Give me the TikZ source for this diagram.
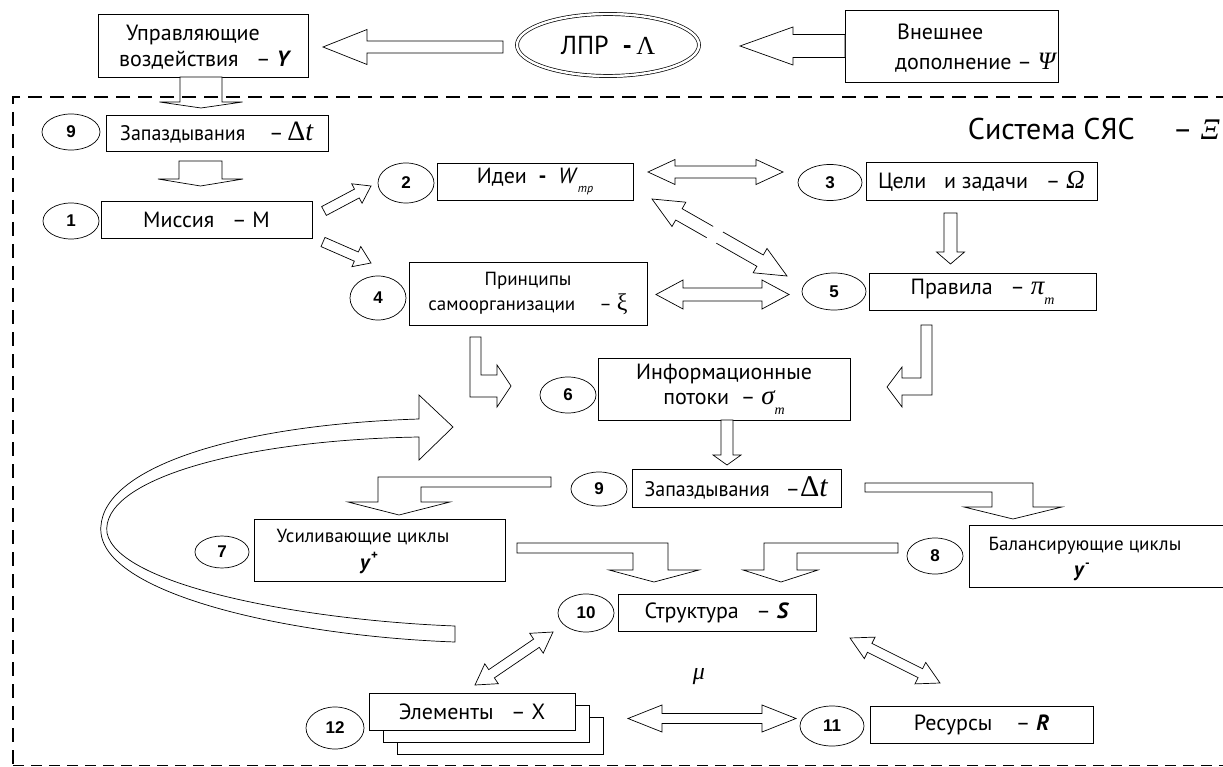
\documentclass[tikz,border=0pt]{standalone}
\usepackage{fontspec}
\setmainfont{PT Sans}
\newfontfamily\tnr{Liberation Serif}
\newfontfamily\arl{Liberation Sans}
\usetikzlibrary{calc,shapes.geometric}
\newcommand{\fs}[2]{\fontsize{#1}{#2}\selectfont}
\newcommand{\harrow}[5]{%
 \path ($(#2)!#5!(#1)$) coordinate (hbx);
 \draw[blk] ($(#1)!#3!90:(#2)$) -- ($(hbx)!#3!90:(#2)$) -- ($(hbx)!#4!90:(#2)$) -- (#2) -- ($(hbx)!#4!-90:(#2)$) -- ($(hbx)!#3!-90:(#2)$) -- ($(#1)!#3!-90:(#2)$) -- cycle;}
\newcommand{\dharrow}[5]{%
 \path ($(#2)!#5!(#1)$) coordinate (hbx) ($(#1)!#5!(#2)$) coordinate (hax);
 \draw[blk] (#1) -- ($(hax)!#4!90:(#2)$) -- ($(hax)!#3!90:(#2)$) -- ($(hbx)!#3!90:(#2)$) -- ($(hbx)!#4!90:(#2)$) -- (#2) -- ($(hbx)!#4!-90:(#2)$) -- ($(hbx)!#3!-90:(#2)$) -- ($(hax)!#3!-90:(#2)$) -- ($(hax)!#4!-90:(#2)$) -- cycle;}
\newcommand{\zap}{\scalebox{0.95}[1]{\fs{21}{21}Запаздывания}}
\tikzset{
 box/.style={draw, line width=0.9pt, fill=white, inner sep=0pt, align=center},
 num/.style={draw, ellipse, line width=0.7pt, fill=white, inner sep=0pt, font=\arl\bfseries\fs{17}{17}},
 blk/.style={draw, line width=0.7pt, fill=white, line join=miter},
 txt/.style={inner sep=0pt},
 big/.style={font=\fs{22}{25}},
 mid/.style={font=\fs{19}{25}},
}
\begin{document}
\begin{tikzpicture}[x=1pt,y=-1pt]
\useasboundingbox (0,0) rectangle (1223,767);
% ---------- top level ----------
\node[box, minimum width=210, minimum height=63] (Y) at (203,45.5) {};
\node[txt, anchor=west, align=left, font=\fs{22}{26}] (Yt) at (119,47.5) {\hspace*{7pt}Управляющие\\воздействия\ \ \ – \textbf{\textit{Y}}};
\node[draw, ellipse, double, double distance=2.4pt, line width=0.7pt, minimum width=182, minimum height=62, inner sep=0pt, font=\fs{26}{26}] (lpr) at (608,45) {ЛПР\ \ \textbf{-}\,{\tnr Λ}};
\node[box, minimum width=213, minimum height=72] (ext) at (951.5,46) {};
\node[txt, anchor=west, align=left, font=\fs{22}{30}] (extt) at (895,48.5) {\hspace*{2pt}Внешнее\\дополнение\ – {\tnr\itshape\fs{25}{25}Ψ}};
\coordinate (a1s) at (503,47); \coordinate (a1e) at (323,47);
\harrow{a1s}{a1e}{6pt}{17.5pt}{44pt}
\coordinate (a2s) at (845,46); \coordinate (a2e) at (740,46);
\harrow{a2s}{a2e}{11.5pt}{19pt}{53pt}
% ---------- left column ----------
\node[num, minimum width=58, minimum height=36] (n9a) at (71,132) {9};
\node[box, minimum width=222, minimum height=36] (zap1) at (217,133) {\zap\hspace{24pt}\fs{22}{22}–\,{\tnr\fs{28}{28}Δ\textit{t}}};
\node[num, minimum width=56, minimum height=36] (n1) at (71,221) {1};
\node[box, big, minimum width=211, minimum height=37] (mis) at (206.5,219.5) {Миссия\ \ \ – М};
\coordinate (a3s) at (201,77); \coordinate (a3e) at (201,108);
\harrow{a3s}{a3e}{21pt}{41.5pt}{6pt}
\coordinate (a4s) at (200.5,161); \coordinate (a4e) at (200.5,186);
\harrow{a4s}{a4e}{21.5pt}{42.5pt}{7pt}
\coordinate (a5s) at (324,211); \coordinate (a5e) at (371,186);
\harrow{a5s}{a5e}{5pt}{11pt}{16pt}
\coordinate (a6s) at (323,242); \coordinate (a6e) at (371,263);
\harrow{a6s}{a6e}{5pt}{11pt}{16pt}
% ---------- second row ----------
\node[num, minimum width=56, minimum height=40] (n2) at (406,183) {2};
\node[box, big, minimum width=196, minimum height=37] (ide) at (535,181.5) {Идеи\ \ \textbf{-}\ \ \textit{W}\raisebox{-0.4em}{\fs{12}{12}\itshape mp}};
\node[num, minimum width=64, minimum height=36] (n3) at (830,182.5) {3};
\node[box, big, minimum width=231, minimum height=38] (cel) at (981.5,181) {Цели\ \ \ и задачи\ \ \ – {\tnr\itshape\fs{26}{26}Ω}};
\node[anchor=east, txt, font=\fs{30}{30}] (sys) at (1220,129) {Система СЯС\quad\ – {\tnr\itshape Ξ}};
\coordinate (d1s) at (648,172); \coordinate (d1e) at (783,172);
\dharrow{d1s}{d1e}{6pt}{12.5pt}{27pt}
\coordinate (d2s) at (652,199); \coordinate (d2e) at (787,276);
\dharrow{d2s}{d2e}{6.5pt}{14pt}{31pt}
\draw[white, line width=16pt] ($(d2s)!0.43!(d2e)$) -- ($(d2s)!0.5!(d2e)$);
\coordinate (a7s) at (950.5,213); \coordinate (a7e) at (950.5,264);
\harrow{a7s}{a7e}{6.5pt}{14pt}{12pt}
% ---------- third row ----------
\node[num, minimum width=56, minimum height=44] (n4) at (378,298) {4};
\node[box, mid, minimum width=238, minimum height=63] (pri) at (528,293.5) {Принципы\\самоорганизации\quad\ – {\tnr\fs{24}{24}ξ}};
\node[num, minimum width=64, minimum height=37] (n5) at (834,291.5) {5};
\node[box, big, minimum width=227, minimum height=37] (pra) at (982.5,291.5) {Правила\ \ \ – {\tnr\itshape\fs{27}{27}π}\raisebox{-0.45em}{\tnr\itshape\fs{14}{14}m}};
\coordinate (d3s) at (656,294.5); \coordinate (d3e) at (789,294.5);
\dharrow{d3s}{d3e}{6.5pt}{14.5pt}{27pt}
% ---------- info flows ----------
\node[num, minimum width=56, minimum height=36] (n6) at (568,395) {6};
\node[box, big, minimum width=252, minimum height=62] (inf) at (724,389) {Информационные\\потоки\ \ – {\tnr\itshape\fs{27}{27}σ}\raisebox{-0.45em}{\tnr\itshape\fs{14}{14}m}};
\draw[blk] (470,337) -- (481,337) -- (481,375) -- (497,375) -- (497,365) -- (511,386) -- (497,407) -- (497,397) -- (470,397) -- cycle;
\draw[blk] (921,325) -- (932,325) -- (932,395) -- (902,395) -- (902,407) -- (887,387) -- (902,367) -- (902,378) -- (921,378) -- cycle;
% loop arrow
\draw[blk] (419,419) .. controls (230,425) and (95,470) .. (101,533) .. controls (108,595) and (290,636) .. (455,642) -- (455,626) .. controls (300,620) and (118,585) .. (107,533) .. controls (100,480) and (240,440) .. (419,437) -- (419,460) -- (453,427) -- (419,395) -- cycle;
\coordinate (a8s) at (727,420); \coordinate (a8e) at (727,465);
\harrow{a8s}{a8e}{6pt}{14pt}{10pt}
% ---------- delays ----------
\node[num, minimum width=56, minimum height=34] (n9b) at (599,489) {9};
\node[box, minimum width=209, minimum height=38] (zap2) at (736.5,488) {\zap\hspace{16pt}\fs{22}{22}–{\tnr\fs{30}{30}Δ\textit{t}}};
\draw[blk] (551,477) -- (378,477) -- (378,502) -- (348,502) -- (399,515) -- (450,502) -- (421,502) -- (421,487) -- (551,487) -- cycle;
\draw[blk] (865,483) -- (1033,483) -- (1033,507) -- (1062,507) -- (1013,519) -- (964,507) -- (992,507) -- (992,492) -- (865,492) -- cycle;
% ---------- loops ----------
\node[num, minimum width=54, minimum height=32] (n7) at (222,552) {7};
\node[box, minimum width=251, minimum height=62] (usi) at (379.5,550) {};
\node[txt, font=\fs{19}{19}] (usit) at (363,537) {Усиливающие циклы};
\node[txt, font=\fs{21}{21}] (usiy) at (369,563) {\textbf{\textit{y}}\raisebox{0.45em}{\fs{13}{13}\textbf{+}}};
\node[num, minimum width=56, minimum height=36] (n8) at (935,556) {8};
\node[box, minimum width=261, minimum height=62] (bal) at (1099.5,556) {};
\node[txt, font=\fs{19}{19}] (balt) at (1085,546) {Балансирующие циклы};
\node[txt, font=\fs{21}{21}] (baly) at (1082,572) {\textbf{\textit{y}}\raisebox{0.45em}{\fs{13}{13}\textbf{-}}};
\draw[blk] (517,543) -- (668,543) -- (668,570) -- (699,570) -- (654,582) -- (609,570) -- (633,570) -- (633,553) -- (517,553) -- cycle;
\draw[blk] (898,543) -- (764,543) -- (764,570) -- (743,570) -- (781,582) -- (818,570) -- (797,570) -- (797,553) -- (898,553) -- cycle;
% ---------- structure ----------
\node[num, minimum width=56, minimum height=38] (n10) at (586,613) {10};
\node[box, big, minimum width=198, minimum height=37] (str) at (717,612.5) {Структура\ \ \ – \textbf{\textit{S}}};
\node[box, minimum width=206, minimum height=37] (el3) at (500,735.5) {};
\node[box, minimum width=206, minimum height=37] (el2) at (486,723.5) {};
\node[box, big, minimum width=206, minimum height=37] (ele) at (472,711.5) {Элементы\ \ \ – X};
\node[num, minimum width=58, minimum height=42] (n12) at (335,728) {12};
\node[num, minimum width=64, minimum height=40] (n11) at (832,726) {11};
\node[box, big, minimum width=223, minimum height=37] (res) at (981.5,724.5) {Ресурсы\ \ \ \ – \textbf{\textit{R}}};
\node[txt, font=\tnr\itshape\fs{24}{24}] (mu) at (699,677) {μ};
\coordinate (d4s) at (475,685); \coordinate (d4e) at (553,632);
\dharrow{d4s}{d4e}{5pt}{12pt}{20pt}
\coordinate (d5s) at (850,638); \coordinate (d5e) at (940,683);
\dharrow{d5s}{d5e}{5pt}{12pt}{22pt}
\coordinate (d6s) at (628,718.5); \coordinate (d6e) at (796,718.5);
\dharrow{d6s}{d6e}{5pt}{13.5pt}{34pt}
% ---------- system frame ----------
\draw[line width=2.6pt, dash pattern=on 14pt off 8pt] (1230,97) -- (13,97) -- (13,767);
\draw[line width=1.1pt, dash pattern=on 11pt off 7pt] (13,765.5) -- (1230,765.5);
\end{tikzpicture}
\end{document}
